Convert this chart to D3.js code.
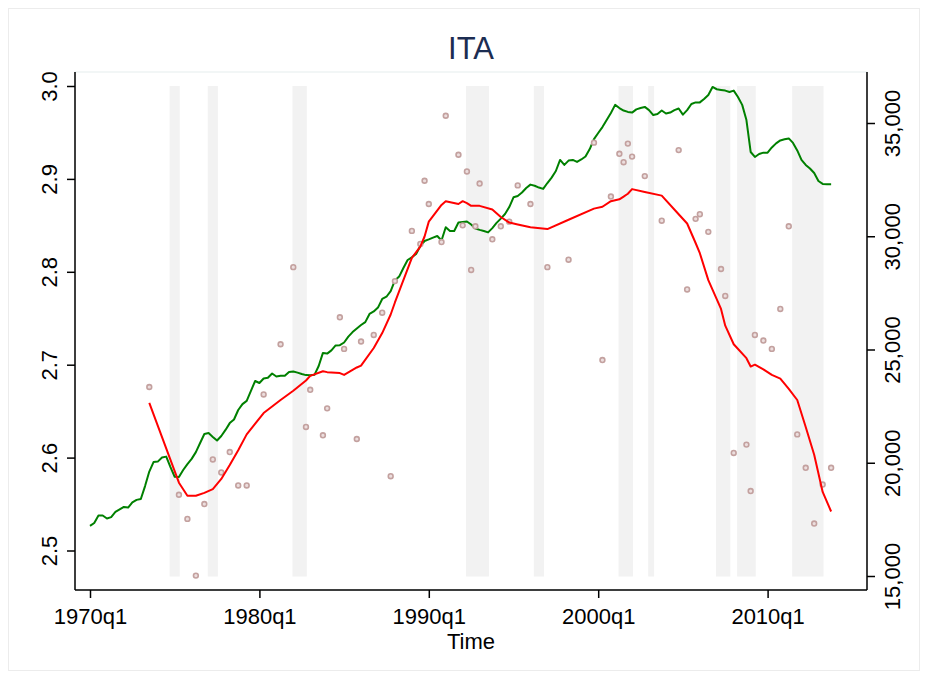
<!DOCTYPE html>
<html>
<head>
<meta charset="utf-8">
<script src="https://cdn.jsdelivr.net/npm/d3@7"></script>
<style>
  body { margin: 0; background: #fff; }
  text { font-family: "Liberation Sans", Arial, Helvetica, sans-serif; }
</style>
</head>
<body>
<svg id="chart" width="928" height="679"></svg>
<script>
// quarterly series (right axis), starts 1970q1
var greenStart = "1970q1";
var greenValues = [
  17210, 17340, 17670, 17670, 17540, 17600, 17830, 17940, 18050, 18020,
  18250, 18360, 18400, 18970, 19610, 20030, 20050, 20230, 20270, 19810,
  19380, 19370, 19680, 19940, 20170, 20470, 20870, 21270, 21310, 21140,
  20980, 21180, 21450, 21750, 21910, 22330, 22590, 22730, 23170, 23610,
  23520, 23720, 23750, 23940, 23810, 23840, 23840, 24010, 24030, 23980,
  23920, 23870, 23860, 23880, 24270, 24850, 24820, 24960, 25180, 25190,
  25310, 25570, 25770, 25930, 26080, 26210, 26570, 26680, 26850, 27230,
  27330, 27580, 28050, 28220, 28600, 28950, 29070, 29220, 29570, 29790,
  29860, 29940, 30010, 29810, 30400, 30230, 30230, 30610, 30630, 30650,
  30520, 30340, 30280, 30230, 30170, 30360, 30590, 30780, 30980, 31290,
  31720, 31780, 31930, 32130, 32280, 32230, 32150, 32090, 32350, 32590,
  32880, 33370, 33150, 33340, 33370, 33280, 33390, 33520, 33850, 34290,
  34560, 34820, 35130, 35440, 35800, 35660, 35550, 35490, 35460, 35600,
  35660, 35710, 35570, 35350, 35400, 35550, 35420, 35460, 35570, 35640,
  35370, 35570, 35840, 35910, 35910, 36060, 36240, 36590, 36490, 36460,
  36430, 36370, 36430, 36150, 35800, 35130, 33720, 33500, 33630, 33690,
  33690, 33920, 34100, 34230, 34280, 34320, 34120, 33790, 33370, 33150,
  32990, 32790, 32440, 32310, 32300, 32300
];

// observations (left axis) and smoothed line at the same dates
var obsDates = [
  "1973q3", "1975q2", "1975q4", "1976q2", "1976q4", "1977q2", "1977q4", "1978q2", "1978q4", "1979q2",
  "1980q2", "1981q2", "1982q1", "1982q4", "1983q1", "1983q4", "1984q1", "1984q4", "1985q1", "1985q4",
  "1986q1", "1986q4", "1987q2", "1987q4", "1988q1", "1989q1", "1989q3", "1989q4", "1990q1", "1990q4",
  "1991q1", "1991q4", "1992q1", "1992q2", "1992q3", "1992q4", "1993q1", "1993q4", "1994q2", "1994q4",
  "1995q2", "1996q1", "1997q1", "1998q2", "1999q4", "2000q2", "2000q4", "2001q2", "2001q3", "2001q4",
  "2002q1", "2002q4", "2003q4", "2004q4", "2005q2", "2005q4", "2006q1", "2006q3", "2007q2", "2007q3",
  "2008q1", "2008q4", "2009q1", "2009q2", "2009q4", "2010q2", "2010q4", "2011q2", "2011q4", "2012q2",
  "2012q4", "2013q2", "2013q4"
];
var obsValues = [
  2.676, 2.560, 2.534, 2.473, 2.550, 2.598, 2.584, 2.606, 2.570, 2.570,
  2.668, 2.722, 2.805, 2.633, 2.673, 2.624, 2.653, 2.751, 2.717, 2.620,
  2.725, 2.732, 2.756, 2.580, 2.790, 2.844, 2.830, 2.898, 2.873, 2.832,
  2.968, 2.926, 2.850, 2.908, 2.802, 2.849, 2.895, 2.835, 2.849, 2.854,
  2.893, 2.873, 2.805, 2.813, 2.939, 2.705, 2.881, 2.927, 2.918, 2.938,
  2.924, 2.903, 2.855, 2.931, 2.781, 2.857, 2.862, 2.843, 2.803, 2.774,
  2.605, 2.614, 2.564, 2.732, 2.726, 2.717, 2.760, 2.849, 2.625, 2.589,
  2.529, 2.571, 2.589
];
var smoothValues = [
  2.659, 2.573, 2.559, 2.559, 2.562, 2.566, 2.577, 2.592, 2.608, 2.625,
  2.648, 2.662, 2.672, 2.683, 2.688, 2.693, 2.692, 2.691, 2.689, 2.697,
  2.699, 2.718, 2.734, 2.754, 2.767, 2.815, 2.827, 2.838, 2.854, 2.872,
  2.876, 2.873, 2.876, 2.874, 2.871, 2.871, 2.871, 2.867, 2.859, 2.853,
  2.851, 2.848, 2.846, 2.856, 2.868, 2.870, 2.876, 2.878, 2.881, 2.884,
  2.889, 2.886, 2.882, 2.862, 2.852, 2.831, 2.820, 2.791, 2.760, 2.742,
  2.722, 2.707, 2.698, 2.700, 2.695, 2.689, 2.685, 2.674, 2.662, 2.633,
  2.603, 2.563, 2.542
];

// shaded periods
var bandStart = ["1974q4", "1977q1", "1982q1", "1992q2", "1996q2", "2001q2", "2003q1", "2007q1", "2008q2", "2011q3"];
var bandEnd   = ["1975q2", "1977q3", "1982q4", "1993q3", "1996q4", "2002q1", "2003q2", "2007q4", "2009q2", "2013q2"];

var xTicks = ["1970q1", "1980q1", "1990q1", "2000q1", "2010q1"];
var leftTicks = [2.5, 2.6, 2.7, 2.8, 2.9, 3.0];
var rightTicks = [15000, 20000, 25000, 30000, 35000];

function qIndex(s) {
  var p = s.split("q");
  return (+p[0] - 1970) * 4 + (+p[1] - 1);
}
function qLabel(t) {
  return (1970 + Math.floor(t / 4)) + "q" + (t % 4 + 1);
}

var svg = d3.select("#chart");
var plotL = 75, plotR = 867, plotT = 72, plotB = 590;

var x = d3.scaleLinear().domain([0, 160]).range([90, 767.6]);
var yL = d3.scaleLinear().domain([2.5, 3.0]).range([550.5, 86]);
var yR = d3.scaleLinear().domain([15000, 35000]).range([576, 123]);

// outer frame + plot region outline
svg.append("rect")
    .attr("x", 8.5).attr("y", 8.5)
    .attr("width", 911).attr("height", 662)
    .attr("fill", "none").attr("stroke", "#ececec");
svg.append("rect")
    .attr("x", plotL).attr("y", plotT)
    .attr("width", plotR - plotL).attr("height", plotB - plotT)
    .attr("fill", "#fff").attr("stroke", "#e6eeee");

// bands
var bandPad = 0.2;
svg.append("g").selectAll("rect")
    .data(bandStart.map(function(s, i) { return [qIndex(s), qIndex(bandEnd[i])]; }))
  .enter().append("rect")
    .attr("x", function(d) { return x(d[0] - bandPad); })
    .attr("width", function(d) { return x(d[1] + bandPad) - x(d[0] - bandPad); })
    .attr("y", yL(3.0))
    .attr("height", yL(2.472) - yL(3.0))
    .attr("fill", "#f2f2f2");

// green series
var greenT0 = qIndex(greenStart);
var greenData = greenValues.map(function(v, i) { return [greenT0 + i, v]; });
svg.append("path")
    .datum(greenData)
    .attr("fill", "none")
    .attr("stroke", "#008000")
    .attr("stroke-width", 2)
    .attr("stroke-linejoin", "round")
    .attr("d", d3.line()
      .x(function(d) { return x(d[0]); })
      .y(function(d) { return yR(d[1]); }));

// observations
var obs = obsDates.map(function(s, i) { return [qIndex(s), obsValues[i], smoothValues[i]]; });
svg.append("g").selectAll("circle")
    .data(obs)
  .enter().append("circle")
    .attr("cx", function(d) { return x(d[0]); })
    .attr("cy", function(d) { return yL(d[1]); })
    .attr("r", 2.4)
    .attr("fill", "#ecdede")
    .attr("stroke", "#c3a19f")
    .attr("stroke-width", 1.6);

// smoothed line
svg.append("path")
    .datum(obs)
    .attr("fill", "none")
    .attr("stroke", "#ff0000")
    .attr("stroke-width", 2)
    .attr("stroke-linejoin", "round")
    .attr("d", d3.line()
      .x(function(d) { return x(d[0]); })
      .y(function(d) { return yL(d[2]); }));

// axes
var axisG = svg.append("g");
axisG.append("line").attr("x1", plotL).attr("x2", plotL).attr("y1", plotT).attr("y2", plotB)
    .attr("stroke", "#000").attr("stroke-width", 1.5);
axisG.append("line").attr("x1", plotR).attr("x2", plotR).attr("y1", plotT).attr("y2", plotB)
    .attr("stroke", "#000").attr("stroke-width", 1.5);
axisG.append("line").attr("x1", plotL).attr("x2", plotR).attr("y1", plotB).attr("y2", plotB)
    .attr("stroke", "#000").attr("stroke-width", 1.5);

var xAxis = svg.append("g")
    .attr("transform", "translate(0," + plotB + ")")
    .call(d3.axisBottom(x)
      .tickValues(xTicks.map(qIndex))
      .tickFormat(qLabel)
      .tickSize(8));
xAxis.select(".domain").remove();
xAxis.selectAll("line").attr("stroke", "#000").attr("stroke-width", 1.5);
xAxis.selectAll("text")
    .attr("font-size", 22)
    .attr("fill", "#000")
    .attr("dy", null)
    .attr("y", 34);

var yAxisL = svg.append("g")
    .attr("transform", "translate(" + plotL + ",0)")
    .call(d3.axisLeft(yL).tickValues(leftTicks).tickFormat(d3.format(".1f")).tickSize(8));
yAxisL.select(".domain").remove();
yAxisL.selectAll("line").attr("stroke", "#000").attr("stroke-width", 1.5);
yAxisL.selectAll("text")
    .attr("font-size", 22)
    .attr("fill", "#000")
    .attr("x", null).attr("dy", null)
    .attr("text-anchor", "middle")
    .attr("transform", "translate(-18,0) rotate(-90)");

var yAxisR = svg.append("g")
    .attr("transform", "translate(" + plotR + ",0)")
    .call(d3.axisRight(yR).tickValues(rightTicks).tickFormat(d3.format(",")).tickSize(8));
yAxisR.select(".domain").remove();
yAxisR.selectAll("line").attr("stroke", "#000").attr("stroke-width", 1.5);
yAxisR.selectAll("text")
    .attr("font-size", 22)
    .attr("fill", "#000")
    .attr("x", null).attr("dy", null)
    .attr("text-anchor", "middle")
    .attr("transform", "translate(33,0) rotate(-90)");

// titles
svg.append("text")
    .attr("x", (plotL + plotR) / 2)
    .attr("y", 59)
    .attr("text-anchor", "middle")
    .attr("font-size", 31)
    .attr("fill", "#1c2d52")
    .text("ITA");

svg.append("text")
    .attr("x", (plotL + plotR) / 2)
    .attr("y", 649)
    .attr("text-anchor", "middle")
    .attr("font-size", 22)
    .attr("fill", "#000")
    .text("Time");
</script>
</body>
</html>
